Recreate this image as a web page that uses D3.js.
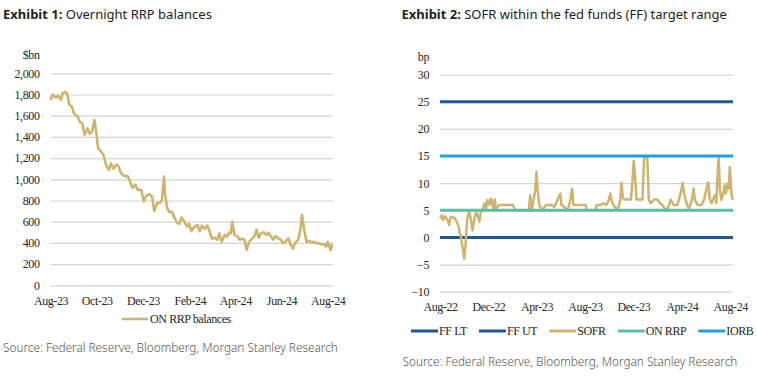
<!DOCTYPE html>
<html>
<head>
<meta charset="utf-8">
<script src="https://cdn.jsdelivr.net/npm/d3@7"></script>
<style>
  body { margin: 0; background: #fff; }
  svg { display: block; }
  .title { font-family: "Noto Sans", "Open Sans", sans-serif; font-size: 13px; fill: #222; }
  .source { font-family: "Noto Sans", "Open Sans", sans-serif; font-size: 11.8px; fill: #555; font-weight: 300; }
  .axis text, .lbl { font-family: "Liberation Serif", serif; font-size: 12px; fill: #262626; letter-spacing: -0.4px; }
</style>
</head>
<body>
<svg width="757" height="377"></svg>
<script>
// Exhibit 1 - ON RRP balances ($bn)
const rrpDates = [
  "2023-08-01", "2023-08-04", "2023-08-08", "2023-08-11", "2023-08-15", "2023-08-17", "2023-08-20", "2023-08-23",
  "2023-08-26", "2023-08-29", "2023-09-01", "2023-09-06", "2023-09-09", "2023-09-12", "2023-09-15", "2023-09-19",
  "2023-09-22", "2023-09-25", "2023-09-28", "2023-09-30", "2023-10-03", "2023-10-07", "2023-10-10", "2023-10-13",
  "2023-10-17", "2023-10-20", "2023-10-23", "2023-10-27", "2023-10-30", "2023-11-02", "2023-11-06", "2023-11-11",
  "2023-11-14", "2023-11-17", "2023-11-21", "2023-11-24", "2023-11-29", "2023-12-02", "2023-12-05", "2023-12-09",
  "2023-12-13", "2023-12-16", "2023-12-20", "2023-12-23", "2023-12-26", "2023-12-29", "2023-12-30", "2024-01-02",
  "2024-01-05", "2024-01-08", "2024-01-11", "2024-01-15", "2024-01-18", "2024-01-21", "2024-01-25", "2024-01-28",
  "2024-01-31", "2024-02-03", "2024-02-06", "2024-02-11", "2024-02-14", "2024-02-17", "2024-02-21", "2024-02-24",
  "2024-02-27", "2024-03-01", "2024-03-04", "2024-03-08", "2024-03-11", "2024-03-14", "2024-03-18", "2024-03-21",
  "2024-03-24", "2024-03-26", "2024-03-28", "2024-03-31", "2024-04-04", "2024-04-07", "2024-04-10", "2024-04-13",
  "2024-04-16", "2024-04-19", "2024-04-22", "2024-04-26", "2024-04-29", "2024-05-02", "2024-05-05", "2024-05-09",
  "2024-05-12", "2024-05-15", "2024-05-18", "2024-05-21", "2024-05-24", "2024-05-27", "2024-05-31", "2024-06-03",
  "2024-06-06", "2024-06-10", "2024-06-13", "2024-06-16", "2024-06-19", "2024-06-23", "2024-06-26", "2024-06-28",
  "2024-07-01", "2024-07-04", "2024-07-07", "2024-07-11", "2024-07-14", "2024-07-17", "2024-07-20", "2024-07-24",
  "2024-07-27", "2024-07-30", "2024-08-01", "2024-08-03", "2024-08-05", "2024-08-07"
];
const rrpBalances = [
  1745, 1800, 1770, 1790, 1750, 1810, 1825, 1810,
  1700, 1690, 1620, 1590, 1540, 1530, 1420, 1480,
  1430, 1450, 1560, 1460, 1290, 1260, 1230, 1140,
  1090, 1150, 1100, 1140, 1120, 1060, 1030, 1030,
  980, 920, 950, 900, 900, 790, 840, 860,
  840, 700, 780, 775, 800, 1025, 870, 730,
  690, 695, 650, 590, 580, 640, 600, 555,
  580, 510, 545, 570, 510, 560, 535, 565,
  510, 440, 450, 430, 490, 410, 475, 460,
  500, 490, 600, 475, 460, 430, 440, 430,
  333, 410, 430, 460, 525, 450, 490, 500,
  475, 495, 460, 430, 465, 445, 430, 395,
  410, 445, 385, 345, 400, 430, 525, 665,
  525, 410, 420, 405, 410, 395, 400, 385,
  390, 365, 410, 365, 330, 395
];
const rrpTicks = ["2023-08-01", "2023-10-01", "2023-12-01", "2024-02-01", "2024-04-01", "2024-06-01", "2024-08-01"];

// Exhibit 2 - SOFR vs FF lower bound (bp)
const sofrDates = [
  "2022-08-01", "2022-08-06", "2022-08-09", "2022-08-14", "2022-08-20", "2022-08-24", "2022-08-28", "2022-09-03",
  "2022-09-08", "2022-09-12", "2022-09-17", "2022-09-20", "2022-09-23", "2022-09-25", "2022-09-28", "2022-10-01",
  "2022-10-04", "2022-10-07", "2022-10-10", "2022-10-14", "2022-10-18", "2022-10-22", "2022-10-26", "2022-10-31",
  "2022-11-04", "2022-11-08", "2022-11-12", "2022-11-17", "2022-11-21", "2022-11-25", "2022-11-29", "2022-12-03",
  "2022-12-08", "2022-12-13", "2022-12-17", "2022-12-20", "2022-12-29", "2023-01-06", "2023-01-15", "2023-01-23",
  "2023-02-01", "2023-02-07", "2023-02-17", "2023-03-06", "2023-03-13", "2023-03-16", "2023-03-21", "2023-03-24",
  "2023-03-29", "2023-04-01", "2023-04-04", "2023-04-08", "2023-04-15", "2023-04-25", "2023-05-08", "2023-05-16",
  "2023-05-22", "2023-05-31", "2023-06-03", "2023-06-10", "2023-06-19", "2023-06-25", "2023-06-30", "2023-07-03",
  "2023-07-10", "2023-07-23", "2023-08-03", "2023-08-06", "2023-08-27", "2023-08-31", "2023-09-09", "2023-09-17",
  "2023-09-24", "2023-09-30", "2023-10-04", "2023-10-08", "2023-10-12", "2023-10-19", "2023-10-25", "2023-10-29",
  "2023-11-01", "2023-11-05", "2023-11-11", "2023-11-19", "2023-11-25", "2023-11-29", "2023-12-02", "2023-12-06",
  "2023-12-09", "2023-12-18", "2023-12-24", "2023-12-28", "2024-01-01", "2024-01-05", "2024-01-09", "2024-01-14",
  "2024-01-22", "2024-01-31", "2024-02-06", "2024-02-12", "2024-02-18", "2024-02-23", "2024-02-29", "2024-03-04",
  "2024-03-11", "2024-03-21", "2024-03-29", "2024-04-03", "2024-04-07", "2024-04-14", "2024-04-19", "2024-04-26",
  "2024-05-01", "2024-05-04", "2024-05-11", "2024-05-21", "2024-05-28", "2024-06-03", "2024-06-07", "2024-06-10",
  "2024-06-15", "2024-06-20", "2024-06-24", "2024-06-27", "2024-06-30", "2024-07-03", "2024-07-06", "2024-07-10",
  "2024-07-15", "2024-07-18", "2024-07-21", "2024-07-25", "2024-07-28", "2024-07-31", "2024-08-04", "2024-08-07"
];
const sofrSpread = [
  3.5, 4.1, 3.2, 3.9, 3.2, 2.3, 3.8, 3.7,
  3.5, 2.9, 2.0, 0.7, 0.1, -1.1, -2.3, -3.9,
  -1.7, 2.0, 4.1, 4.7, 3.2, 1.3, 3.2, 4.7,
  4.1, 2.9, 4.7, 5.3, 6.3, 5.3, 6.9, 6.0,
  7.2, 5.3, 7.0, 5.3, 6, 6, 6, 6,
  6, 5, 5, 5, 5, 7.8, 5.3, 6.6,
  8.7, 12.1, 8.7, 6, 5, 6, 6, 5.6,
  6.6, 8.1, 6, 5.6, 5, 6.9, 9, 6,
  6, 6, 6, 5, 5, 6, 6, 6.3,
  6, 6.9, 8.1, 6.6, 6, 5.3, 5.6, 6.9,
  10.1, 7.2, 7, 7, 7, 10.6, 14.1, 10.6,
  7, 7, 7, 14.8, 14.8, 14.8, 6.9, 6.3,
  7, 7, 6.3, 6, 5.3, 5, 6, 7,
  6, 6, 8.1, 10.1, 8.1, 6, 5.3, 6.9,
  9, 6.9, 6, 6, 7.2, 9.3, 10.2, 7.2,
  6.3, 7.2, 7.8, 6.3, 11.2, 14.8, 8.7, 6.9,
  8.4, 9.6, 8.1, 9.9, 9, 13, 8.1, 6.9
];
const rateSeries = ["FF LT", "FF UT", "SOFR", "ON RRP", "IORB"];
const rateLevels = [0, 25, null, 5, 15];
const rateColors = ["#1c5a97", "#1c5a97", "#cfb46d", "#55c2a6", "#21a1dc"];
const sofrTicks = ["2022-08-01", "2022-12-01", "2023-04-01", "2023-08-01", "2023-12-01", "2024-04-01", "2024-08-01"];

const parse = d3.timeParse("%Y-%m-%d");
const fmtMonth = d3.timeFormat("%b-%y");
const svg = d3.select("svg");
svg.append("rect").attr("width", 757).attr("height", 377).attr("fill", "#fff");

function drawTitle(x, num, text) {
  const t = svg.append("text").attr("class", "title").attr("x", x).attr("y", 19);
  t.append("tspan").attr("font-weight", 700).text(`Exhibit ${num}: `);
  t.append("tspan").text(text);
}

function drawAxes(g, x, y, yTicks, xTicks, unit) {
  const [x0, x1] = x.range();
  const yAxis = d3.axisLeft(y).tickValues(yTicks).tickSize(-(x1 - x0)).tickPadding(11)
    .tickFormat(d3.format(","));
  g.append("g")
    .attr("class", "axis")
    .attr("transform", `translate(${x0},0)`)
    .call(yAxis)
    .call((s) => s.select(".domain").remove())
    .call((s) => s.selectAll("line").style("stroke", "#d4d4d4").style("stroke-width", "1.2px"));

  g.append("g")
    .attr("class", "axis")
    .attr("transform", `translate(0,${y.range()[0]})`)
    .call(d3.axisBottom(x).tickValues(xTicks).tickSize(0).tickPadding(11).tickFormat(fmtMonth))
    .call((s) => s.select(".domain").remove());

  g.append("text")
    .attr("class", "lbl")
    .attr("x", x0 - 11)
    .attr("y", y.range()[1] - 18)
    .attr("text-anchor", "end")
    .attr("dy", "0.32em")
    .text(unit);
}

// ---------- Exhibit 1 ----------
drawTitle(3, 1, "Overnight RRP balances");
const rrpData = rrpDates.map((d, i) => ({ date: parse(d), value: rrpBalances[i] }));
const x1 = d3.scaleTime().domain([parse("2023-08-01"), parse("2024-08-08")]).range([50.5, 333]);
const y1 = d3.scaleLinear().domain([0, 2000]).range([285.3, 73.3]);
const g1 = svg.append("g");
drawAxes(g1, x1, y1, d3.range(0, 2001, 200), rrpTicks.map(parse), "$bn");

g1.append("path")
  .datum(rrpData)
  .attr("fill", "none")
  .attr("stroke", rateColors[2])
  .attr("stroke-width", 2.6)
  .attr("stroke-linejoin", "round")
  .attr("d", d3.line().x((d) => x1(d.date)).y((d) => y1(d.value)));

const leg1 = svg.append("g").attr("transform", "translate(122,319)");
leg1.append("line").attr("x1", 0).attr("x2", 26).attr("stroke", rateColors[2]).attr("stroke-width", 2.6);
leg1.append("text").attr("class", "lbl").attr("x", 28).attr("dy", "0.32em").text("ON RRP balances");

svg.append("text").attr("class", "source").attr("x", 3).attr("y", 352)
  .text("Source: Federal Reserve, Bloomberg, Morgan Stanley Research");

// ---------- Exhibit 2 ----------
drawTitle(401.5, 2, "SOFR within the fed funds (FF) target range");
const sofrData = sofrDates.map((d, i) => ({ date: parse(d), value: sofrSpread[i] }));
const xDomain2 = [parse("2022-08-01"), parse("2024-08-08")];
const x2 = d3.scaleTime().domain(xDomain2).range([440, 733]);
const y2 = d3.scaleLinear().domain([-10, 30]).range([291.7, 74.7]);
const g2 = svg.append("g");
drawAxes(g2, x2, y2, d3.range(-10, 31, 5), sofrTicks.map(parse), "bp");

const line2 = d3.line().x((d) => x2(d.date)).y((d) => y2(d.value));
rateSeries.forEach((name, i) => {
  const data = rateLevels[i] === null
    ? sofrData
    : xDomain2.map((d) => ({ date: d, value: rateLevels[i] }));
  g2.append("path")
    .datum(data)
    .attr("fill", "none")
    .attr("stroke", rateColors[i])
    .attr("stroke-width", rateLevels[i] === null ? 2.5 : 3)
    .attr("stroke-linejoin", "round")
    .attr("d", line2);
});

const leg2 = svg.append("g").attr("transform", "translate(411,331)");
let lx = 0;
rateSeries.forEach((name, i) => {
  leg2.append("line").attr("x1", lx).attr("x2", lx + 27)
    .attr("stroke", rateColors[i]).attr("stroke-width", 3);
  const t = leg2.append("text").attr("class", "lbl").attr("x", lx + 28).attr("dy", "0.32em").text(name);
  lx += 28 + t.node().getComputedTextLength() + 12;
});

svg.append("text").attr("class", "source").attr("x", 402.5).attr("y", 366)
  .text("Source: Federal Reserve, Bloomberg, Morgan Stanley Research");
</script>
</body>
</html>
